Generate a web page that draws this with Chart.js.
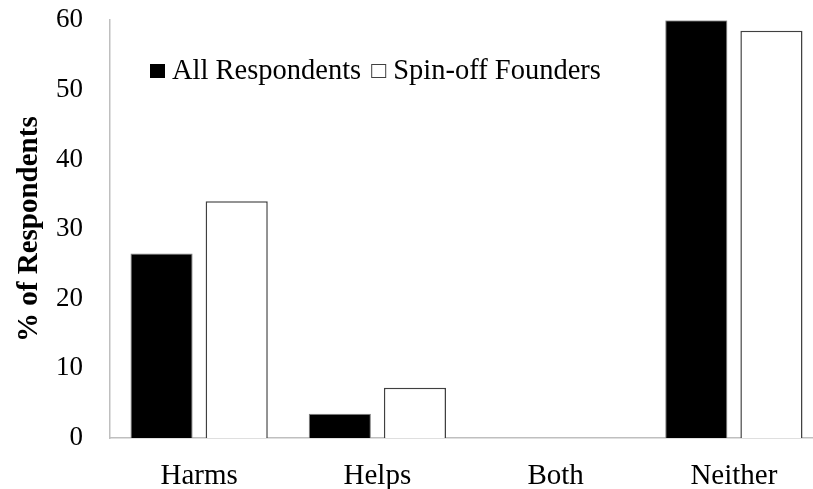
<!DOCTYPE html>
<html>
<head>
<meta charset="utf-8">
<script src="https://cdn.jsdelivr.net/npm/chart.js@4"></script>
<style>
  html, body { margin: 0; padding: 0; background: #fff; overflow: hidden; }
  #wrap { width: 826px; height: 504px; margin-top: -15px; }
</style>
</head>
<body>
<div id="wrap"><canvas id="chart"></canvas></div>
<script>
const categories = ["Harms", "Helps", "Both", "Neither"];
const allRespondents = [26.5, 3.5, 0, 60];
const spinoffFounders = [34, 7.2, 0, 58.5];
const yTicks = [0, 10, 20, 30, 40, 50, 60];

const serif = "'Liberation Serif', 'Times New Roman', serif";

// legend drawn inside the plot, like the original
const innerLegend = {
  id: "innerLegend",
  afterDraw(chart) {
    const ctx = chart.ctx;
    ctx.save();
    ctx.font = "28.5px " + serif;
    ctx.textBaseline = "middle";
    let x = 150;
    const y = 86; // canvas is shifted up 15px
    chart.data.datasets.forEach((ds) => {
      ctx.fillStyle = ds.backgroundColor;
      ctx.fillRect(x, y - 7, 15, 14);
      ctx.strokeStyle = ds.legendBorder;
      ctx.lineWidth = 1;
      ctx.strokeRect(x + 0.5, y - 6.5, 14, 13);
      ctx.fillStyle = "#000";
      ctx.fillText(ds.label, x + 22, y + 1);
      x += 22 + ctx.measureText(ds.label).width + 10;
    });
    ctx.restore();
  },
};

new Chart(document.getElementById("chart"), {
  type: "bar",
  data: {
    labels: categories,
    datasets: [
      {
        label: "All Respondents",
        data: allRespondents,
        backgroundColor: "#000000",
        borderColor: "#808080",
        borderWidth: 1,
        legendBorder: "#000000",
      },
      {
        label: "Spin-off Founders",
        data: spinoffFounders,
        backgroundColor: "#ffffff",
        borderColor: "#404040",
        borderWidth: 1.5,
        legendBorder: "#404040",
      },
    ],
  },
  options: {
    responsive: true,
    maintainAspectRatio: false,
    animation: false,
    layout: { padding: { top: 0, right: 3, left: 0, bottom: 0 } },
    datasets: { bar: { categoryPercentage: 0.843, barPercentage: 0.827 } },
    plugins: {
      legend: { display: false },
      tooltip: { enabled: false },
    },
    scales: {
      x: {
        grid: { display: false },
        border: { color: "#bfbfbf", width: 1.5 },
        ticks: { color: "#000", padding: 13, font: { family: serif, size: 29 } },
        afterFit: (s) => { s.height = 51; },
      },
      y: {
        min: 0,
        max: 60,
        afterBuildTicks: (s) => { s.ticks = yTicks.map((v) => ({ value: v })); },
        grid: { display: false },
        border: { color: "#bfbfbf", width: 1.5 },
        ticks: { color: "#000", padding: 19, font: { family: serif, size: 27 } },
        title: {
          display: true,
          text: "% of Respondents",
          color: "#000",
          padding: { top: 12, bottom: 0 },
          font: { family: serif, size: 29, weight: "bold" },
        },
        afterFit: (s) => { s.width = 110; },
      },
    },
  },
  plugins: [innerLegend],
});
</script>
</body>
</html>
